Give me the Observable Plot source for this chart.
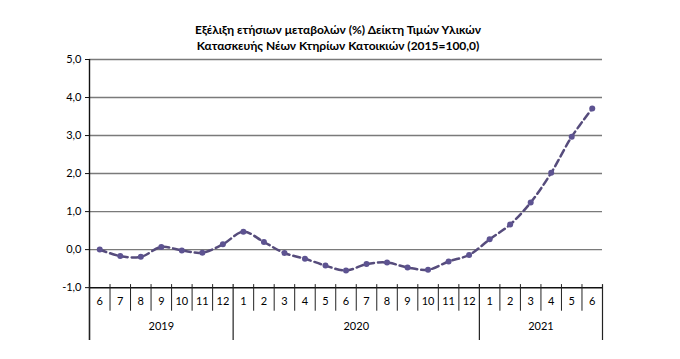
<!DOCTYPE html>
<html>
<head>
<meta charset="utf-8">
<script src="https://cdn.jsdelivr.net/npm/d3@7"></script>
<script src="https://cdn.jsdelivr.net/npm/@observablehq/plot@0.6"></script>
<style>
  html, body { margin: 0; padding: 0; background: #fff; }
  #chart svg { display: block; }
</style>
</head>
<body>
<div id="chart"></div>
<script>
const titleLines = [
  "Εξέλιξη ετήσιων μεταβολών (%) Δείκτη Τιμών Υλικών",
  "Κατασκευής Νέων Κτηρίων Κατοικιών (2015=100,0)"
];
const months = ["6","7","8","9","10","11","12","1","2","3","4","5","6","7","8","9","10","11","12","1","2","3","4","5","6"];
const years = ["2019","2020","2021"];
const values = [0.00,-0.17,-0.19,0.07,-0.02,-0.08,0.14,0.47,0.20,-0.09,-0.24,-0.42,-0.55,-0.38,-0.34,-0.47,-0.53,-0.31,-0.14,0.27,0.66,1.24,2.02,2.97,3.71];
const yTicks = [-1,0,1,2,3,4,5];

const data = months.map((m, i) => ({i, m, v: values[i]}));
// year boundaries derived from month sequence
const bounds = [0];
months.forEach((m, i) => { if (i > 0 && m === "1") bounds.push(i); });
bounds.push(months.length);
const yearData = years.map((y, k) => ({y, mid: (bounds[k] + bounds[k+1]) / 2}));
const seps = d3.range(0, months.length + 1).map(p => ({p, big: bounds.includes(p)}));

const yMin = -2.39, yMax = 5;
const font = "Lato, 'Open Sans', 'DejaVu Sans', sans-serif";
const fmt = d => d.toFixed(1).replace(".", ",");

const chart = Plot.plot({
  width: 680,
  height: 359,
  marginLeft: 89,
  marginRight: 78,
  marginTop: 59,
  marginBottom: 19,
  style: {fontFamily: font, fontSize: "11px", color: "#000", background: "#fff"},
  x: {type: "linear", domain: [0, months.length], axis: null},
  y: {type: "linear", domain: [yMin, yMax], axis: null},
  marks: [
    Plot.ruleY(yTicks.filter(t => t > -1), {x1: 0, x2: months.length, stroke: "#7a7a7a", strokeWidth: 1.4}),
    Plot.ruleY([-1], {x1: 0, x2: months.length, stroke: "#111", strokeWidth: 1.5}),
    Plot.ruleX([0], {y1: yMin, y2: yMax, stroke: "#111", strokeWidth: 1.4}),
    Plot.ruleX(seps, {x: "p", y1: -0.92, y2: d => d.big ? yMin : -1.62, stroke: "#222", strokeWidth: d => d.big ? 1.2 : 1}),
    Plot.axisY({ticks: yTicks, tickFormat: fmt, tickSize: 4, tickPadding: 4, anchor: "left", stroke: "#111", fontSize: 11, label: null}),
    Plot.line(data, {x: d => d.i + 0.5, y: "v", stroke: "#564c7c", strokeWidth: 2.5, strokeDasharray: "7,4", curve: "catmull-rom"}),
    Plot.dot(data, {x: d => d.i + 0.5, y: "v", r: 3, fill: "#5d5391"}),
    Plot.text(data, {x: d => d.i + 0.5, y: -1.37, text: "m", fontSize: 11}),
    Plot.text(yearData, {x: "mid", y: -2.03, text: "y", fontSize: 11}),
    Plot.text([titleLines[0]], {frameAnchor: "top", lineAnchor: "middle", dy: -29, dx: -8, text: d => d, fontWeight: "bold", fontSize: 12}),
    Plot.text([titleLines[1]], {frameAnchor: "top", lineAnchor: "middle", dy: -13, dx: -8, text: d => d, fontWeight: "bold", fontSize: 12})
  ]
});
document.getElementById("chart").appendChild(chart);
</script>
</body>
</html>
